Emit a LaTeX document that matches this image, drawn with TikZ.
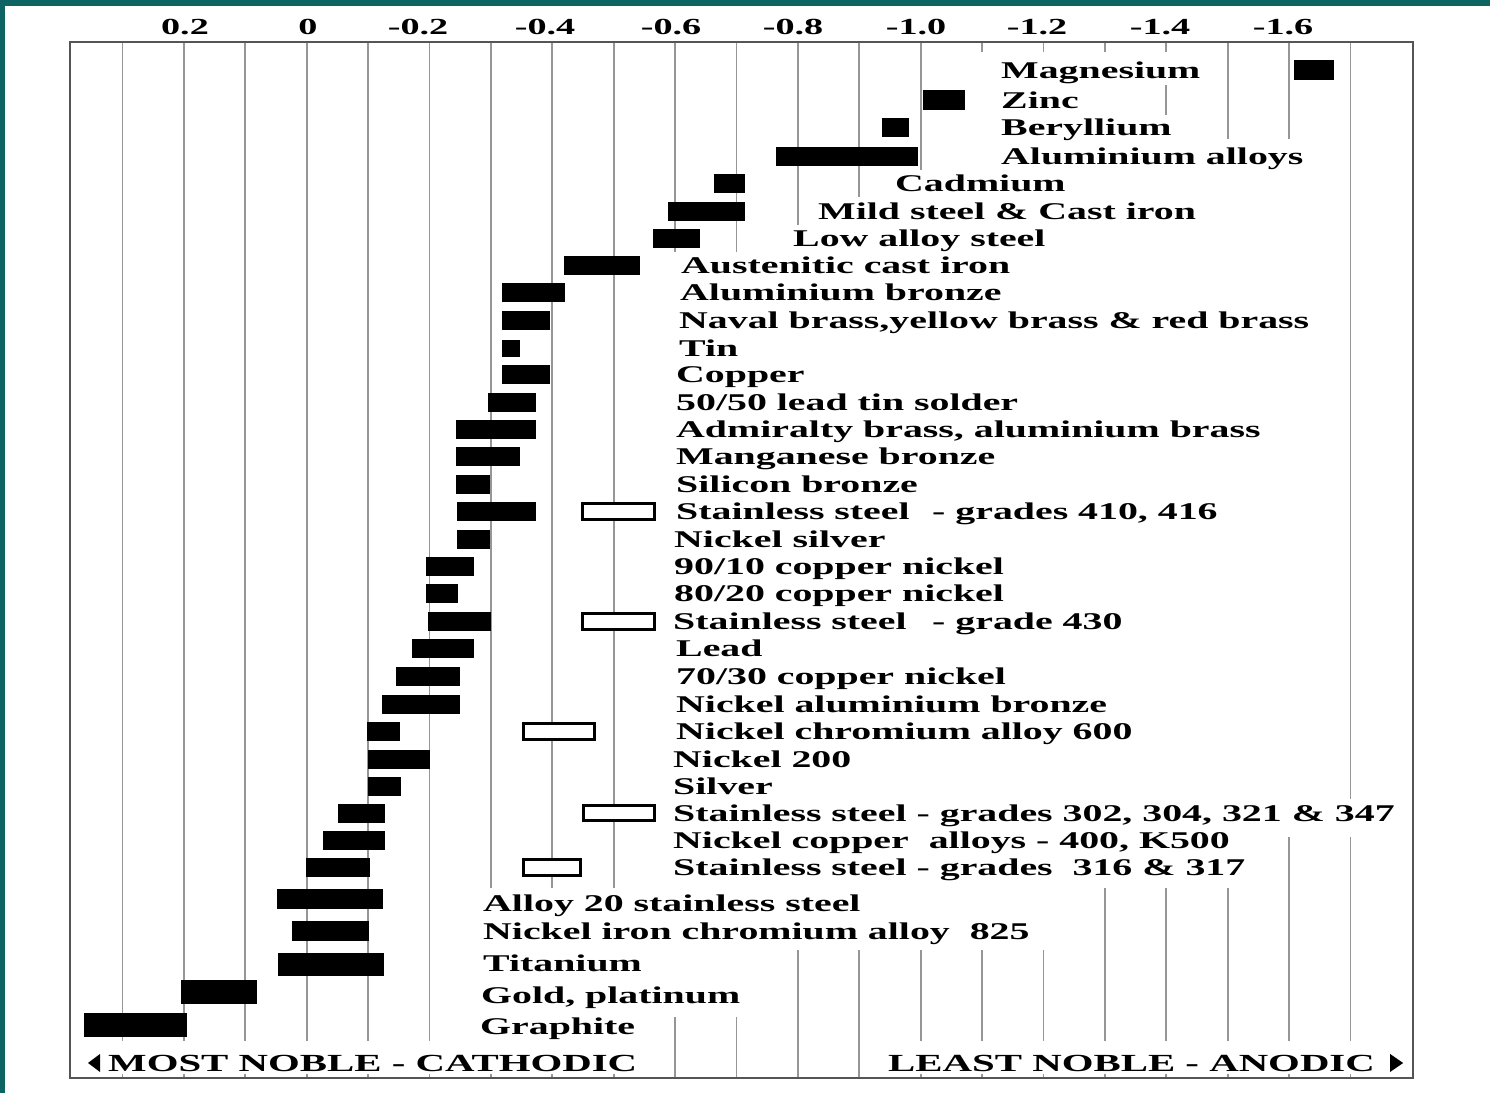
\documentclass[tikz,border=0pt]{standalone}
\usepackage{fontspec}
\setmainfont{Liberation Serif}[FakeStretch=1.66]
\usepackage{xcolor}
\usepackage{tikz}
\definecolor{slideTeal}{RGB}{14,99,99}
\definecolor{gridGray}{RGB}{150,150,150}
\definecolor{frameGray}{RGB}{85,85,85}

\begin{document}
\begin{tikzpicture}[
    x=1pt, y=-1pt,
    every node/.style={text=black, inner sep=0pt},
    matname/.style={font=\fontsize{24}{26}\selectfont\bfseries, anchor=base west},
    sidename/.style={font=\fontsize{24.6}{26}\selectfont\bfseries, anchor=base west},
    scalenum/.style={font=\fontsize{23}{25}\selectfont\bfseries, anchor=base},
    gridline/.style={draw=gridGray, line width=1.8pt},
    openbar/.style={draw=black, fill=white, line width=2.8pt},
]
% Canvas: x in [0, 1490], y in [0, 1093], y grows downward (1 unit = 1 px)
\useasboundingbox (0,0) rectangle (1490,1093);

% --- Slide edge (teal band, top and left) ---
\fill[slideTeal] (0,0) rectangle (1490,6);
\fill[slideTeal] (0,0) rectangle (5,1093);

% --- Potential scale (top) ---
\foreach \x/\v [count=\k] in {185/0.2, 308/0, 418/-0.2, 545/-0.4, 671/-0.6,
                              793/-0.8, 916/-1.0, 1037/-1.2, 1160/-1.4, 1283/-1.6} {
    \node[scalenum] (volt\k) at (\x, 34) {\v};
}

% --- Grid: one line per 0.1 V ---
\foreach \i in {0,...,20} {
    \draw[gridline] ({122.5+61.4*\i}, 42) -- ({122.5+61.4*\i}, 1078);
}

% --- White ground behind the names (breaks the grid lines) ---
\foreach \xa/\ya/\xb/\yb in {968/52/1210/85, 968/85/1160/115, 968/115/1200/139,
        922/139/1300/170, 885/170/1300/197, 808/197/1300/225, 785/225/1300/252,
        668/252/1300/799, 668/799/1410/837, 668/837/1262/888,
        477/888/1076/950, 477/950/780/1017, 477/1017/666/1041,
        76/1041/642/1074, 880/1041/1408/1074} {
    \fill[white] (\xa,\ya) rectangle (\xb,\yb);
}

% --- Frame ---
\draw[frameGray, line width=2.5pt] (70,42) rectangle (1413,1078);

% --- Potential ranges (filled bars) ---
\foreach \xa/\xb/\ya/\yb in {1294/1334/60/80, 923/965/90/110, 882/909/118/137,
        776/918/147/166, 714/745/174/193, 668/745/202/221, 653/700/229/248,
        564/640/256/275, 502/565/283/302, 502/550/311/330, 502/520/340/357,
        502/550/365/384, 488/536/393/412, 456/536/420/439, 456/520/447/466,
        456/490/475/494, 457/536/502/521, 457/490/530/549, 426/474/557/576,
        426/458/584/603, 428/491/612/631, 412/474/639/658, 396/460/667/686,
        382/460/695/714, 367/400/722/741, 368/430/750/769, 368/401/777/796,
        338/385/804/823, 323/385/831/850, 306/370/858/877, 277/383/889/909,
        292/369/921/941, 278/384/953/976, 181/257/980/1004, 84/187/1013/1037} {
    \fill (\xa,\ya) rectangle (\xb,\yb);
}

% Open bars: second range of the stainless and nickel chromium grades
\foreach \xa/\xb/\ya/\yb in {581/656/502/521, 581/656/612/631, 522/596/722/741,
        582/656/804/822, 522/582/858/877} {
    \draw[openbar] (\xa+1.4,\ya+1.4) rectangle (\xb-1.4,\yb-1.4);
}

% --- Material names ---
\node[matname] (mg)    at (1001, 78)    {Magnesium};
\node[matname] (zn)    at (1001, 108)   {Zinc};
\node[matname] (be)    at (1001, 135.5) {Beryllium};
\node[matname] (al)    at (1001, 164.5) {Aluminium alloys};
\node[matname] (cd)    at (895, 191.5)  {Cadmium};
\node[matname] (mild)  at (818, 219.5)  {Mild steel \& Cast iron};
\node[matname] (lowal) at (793, 246.5)  {Low alloy steel};
\node[matname] (aust)  at (681, 273.5)  {Austenitic cast iron};
\node[matname] (albr)  at (680, 300.5)  {Aluminium bronze};
\node[matname] (naval) at (679, 328.5)  {Naval brass,yellow brass \& red brass};
\node[matname] (sn)    at (679, 356.5)  {Tin};
\node[matname] (cu)    at (676, 382.5)  {Copper};
\node[matname] (solder) at (676, 410.5) {50/50 lead tin solder};
\node[matname] (admir) at (676, 437.5)  {Admiralty brass, aluminium brass};
\node[matname] (mnbr)  at (676, 464.5)  {Manganese bronze};
\node[matname] (sibr)  at (676, 492.5)  {Silicon bronze};
\node[matname] (ssA)   at (676, 519.5)  {Stainless steel};
\node[matname] (ssAg)  at (932, 519.5)  {- grades 410, 416};
\node[matname] (nisil) at (674, 547.5)  {Nickel silver};
\node[matname] (cuni9) at (674, 574.5)  {90/10 copper nickel};
\node[matname] (cuni8) at (674, 601.5)  {80/20 copper nickel};
\node[matname] (ssB)   at (673, 629.5)  {Stainless steel};
\node[matname] (ssBg)  at (932, 629.5)  {- grade 430};
\node[matname] (pb)    at (676, 656.5)  {Lead};
\node[matname] (cuni7) at (676, 684.5)  {70/30 copper nickel};
\node[matname] (nialbr) at (676, 712.5) {Nickel aluminium bronze};
\node[matname] (nicr)  at (676, 739.5)  {Nickel chromium alloy 600};
\node[matname] (ni)    at (673, 767.5)  {Nickel 200};
\node[matname] (ag)    at (673, 794.5)  {Silver};
\node[matname] (ssC)   at (673, 821.5)  {Stainless steel - grades 302, 304, 321 \& 347};
\node[matname] (nicu)  at (673, 848.5)  {Nickel copper~ alloys - 400, K500};
\node[matname] (ssD)   at (673, 875.5)  {Stainless steel - grades~ 316 \& 317};
\node[matname] (al20)  at (483, 911)    {Alloy 20 stainless steel};
\node[matname] (nifecr) at (483, 939)   {Nickel iron chromium alloy~ 825};
\node[matname] (ti)    at (483, 971)    {Titanium};
\node[matname] (au)    at (481, 1003)   {Gold, platinum};
\node[matname] (gr)    at (480, 1034)   {Graphite};

% --- Direction of the series (bottom) ---
\node[sidename] (cathodic) at (108, 1071) {MOST NOBLE - CATHODIC};
\node[sidename] (anodic)   at (888, 1071) {LEAST NOBLE - ANODIC};
\fill (cathodic.west) ++(-8,-9) -- ++(0,18) -- ++(-12,-9) -- cycle;
\fill (anodic.east) ++(15,-9) -- ++(0,18) -- ++(13,-9) -- cycle;

\end{tikzpicture}
\end{document}
